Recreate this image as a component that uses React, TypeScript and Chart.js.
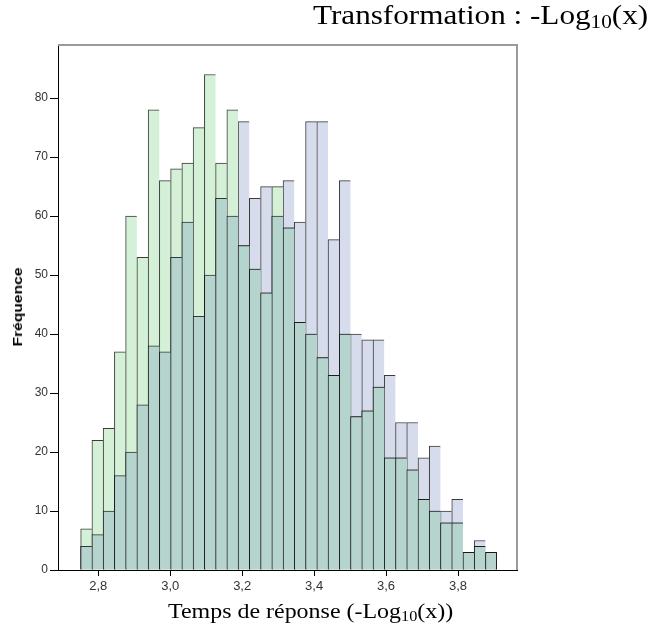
import React, { useEffect, useRef } from "react";
import { Chart, registerables } from "chart.js";

Chart.register(...registerables);

// Bin centres (Temps de réponse, -Log10(x))
const binCenters = [
  2.7666, 2.7979, 2.8291, 2.8604, 2.8916, 2.9229, 2.9542, 2.9854, 3.0167, 3.0479,
  3.0792, 3.1105, 3.1417, 3.173, 3.2042, 3.2355, 3.2668, 3.298, 3.3293, 3.3605,
  3.3918, 3.4231, 3.4543, 3.4856, 3.5168, 3.5481, 3.5794, 3.6106, 3.6419, 3.6731,
  3.7044, 3.7357, 3.7669, 3.7982, 3.8294, 3.8607, 3.892,
];

// Frequencies, green group
const freqGreen = [
  7, 22, 24, 37, 60, 53, 78, 66, 68, 69,
  75, 84, 69, 78, 55, 51, 47, 65, 58, 42,
  40, 36, 33, 40, 26, 27, 31, 19, 19, 17,
  12, 10, 8, 8, 3, 4, 3,
];

// Frequencies, blue group
const freqBlue = [
  4, 6, 10, 16, 20, 28, 38, 37, 53, 59,
  43, 50, 63, 60, 76, 63, 65, 60, 66, 59,
  76, 76, 56, 66, 40, 39, 39, 33, 25, 25,
  19, 21, 10, 12, 3, 5, 3,
];

const xTicks = [2.8, 3.0, 3.2, 3.4, 3.6, 3.8];
const yTicks = [0, 10, 20, 30, 40, 50, 60, 70, 80];

const X_MIN = 2.688;
const X_MAX = 3.964;
const Y_MAX = 89;

const GREEN = "#d4f0d7";
const BLUE = "#d7dced";
const OVERLAP = "#b6d4ce";
const EDGE = "rgba(25,25,25,0.85)";

export default function App() {
  const ref = useRef<HTMLCanvasElement | null>(null);

  useEffect(() => {
    if (!ref.current) return;
    const last = binCenters.length - 1;
    const bw = (ctx: any) =>
      ctx.dataIndex === last
        ? { top: 1, left: 1, right: 1, bottom: 0 }
        : { top: 1, left: 1, right: 0, bottom: 0 };

    const overlap = freqGreen.map((g, i) => Math.min(g, freqBlue[i]));

    const frame = {
      id: "frame",
      afterDraw(chart: any) {
        const { ctx, chartArea } = chart;
        ctx.save();
        ctx.strokeStyle = "#9a9a9a";
        ctx.lineWidth = 2;
        ctx.beginPath();
        ctx.moveTo(chartArea.left, chartArea.top);
        ctx.lineTo(chartArea.right, chartArea.top);
        ctx.lineTo(chartArea.right, chartArea.bottom);
        ctx.stroke();
        ctx.restore();
      },
    };

    const chart = new Chart(ref.current, {
      type: "bar",
      data: {
        datasets: [
          {
            label: "overlap",
            data: binCenters.map((x, i) => ({ x, y: overlap[i] })),
            backgroundColor: OVERLAP,
            borderColor: EDGE,
            borderWidth: bw as any,
            borderSkipped: false,
            order: 0,
          },
          {
            label: "green",
            data: binCenters.map((x, i) => ({ x, y: freqGreen[i] })),
            backgroundColor: GREEN,
            borderColor: EDGE,
            borderWidth: bw as any,
            borderSkipped: false,
            order: 1,
          },
          {
            label: "blue",
            data: binCenters.map((x, i) => ({ x, y: freqBlue[i] })),
            backgroundColor: BLUE,
            borderColor: EDGE,
            borderWidth: bw as any,
            borderSkipped: false,
            order: 2,
          },
        ],
      },
      options: {
        animation: false,
        responsive: false,
        maintainAspectRatio: false,
        layout: { padding: { top: 45, right: 143, bottom: 0, left: 0 } },
        datasets: {
          bar: { grouped: false, barPercentage: 1, categoryPercentage: 1 },
        } as any,
        plugins: {
          legend: { display: false },
          tooltip: { enabled: false },
          title: { display: false },
        },
        scales: {
          x: {
            type: "linear",
            min: X_MIN,
            max: X_MAX,
            offset: false,
            afterBuildTicks: (s: any) => {
              s.ticks = xTicks.map((v) => ({ value: v }));
            },
            afterFit: (s: any) => {
              s.height = 60;
            },
            grid: {
              display: true,
              offset: false,
              drawOnChartArea: false,
              drawTicks: true,
              tickLength: 6,
              color: "#000",
            },
            border: { display: true, color: "#000", width: 1 },
            ticks: {
              autoSkip: false,
              maxRotation: 0,
              padding: 3,
              color: "#333",
              font: { family: "'Liberation Sans', Arial", size: 13 },
              callback: (v: any) => Number(v).toFixed(1).replace(".", ","),
            },
          },
          y: {
            type: "linear",
            min: 0,
            max: Y_MAX,
            afterBuildTicks: (s: any) => {
              s.ticks = yTicks.map((v) => ({ value: v }));
            },
            afterFit: (s: any) => {
              s.width = 58;
            },
            grid: {
              display: true,
              drawOnChartArea: false,
              drawTicks: true,
              tickLength: 8,
              color: "#000",
            },
            border: { display: true, color: "#000", width: 1 },
            ticks: {
              padding: 2,
              color: "#333",
              font: { family: "'Liberation Sans', Arial", size: 12 },
            },
          },
        },
      },
      plugins: [frame],
    });
    return () => chart.destroy();
  }, []);

  return (
    <div
      style={{
        position: "fixed",
        left: 0,
        top: 0,
        width: 660,
        height: 630,
        background: "#fff",
        overflow: "hidden",
      }}
    >
      <canvas
        ref={ref}
        width={660}
        height={630}
        style={{ position: "absolute", left: 0, top: 0, width: 660, height: 630 }}
      />
      <div
        style={{
          position: "absolute",
          left: 313,
          top: 1,
          fontFamily: "'Liberation Serif', 'Times New Roman', serif",
          fontSize: 28,
          lineHeight: "28px",
          color: "#000",
          whiteSpace: "nowrap",
          transform: "scaleX(1.113)",
          transformOrigin: "left center",
        }}
      >
        Transformation : -Log
        <sub style={{ fontSize: "0.68em", verticalAlign: "-0.22em" }}>10</sub>(x)
      </div>
      <div
        style={{
          position: "absolute",
          left: 168,
          top: 601,
          fontFamily: "'Liberation Serif', 'Times New Roman', serif",
          fontSize: 21,
          lineHeight: "21px",
          color: "#000",
          whiteSpace: "nowrap",
          transform: "scaleX(1.14)",
          transformOrigin: "left center",
        }}
      >
        Temps de réponse (-Log
        <sub style={{ fontSize: "0.68em", verticalAlign: "-0.22em" }}>10</sub>(x))
      </div>
      <div
        style={{
          position: "absolute",
          left: 18,
          top: 307,
          transform: "translate(-50%, -50%) rotate(-90deg) scaleX(1.3)",
          fontFamily: "'Liberation Sans', Arial, sans-serif",
          fontWeight: "bold",
          fontSize: 12,
          lineHeight: "12px",
          color: "#000",
          whiteSpace: "nowrap",
        }}
      >
        Fréquence
      </div>
    </div>
  );
}
